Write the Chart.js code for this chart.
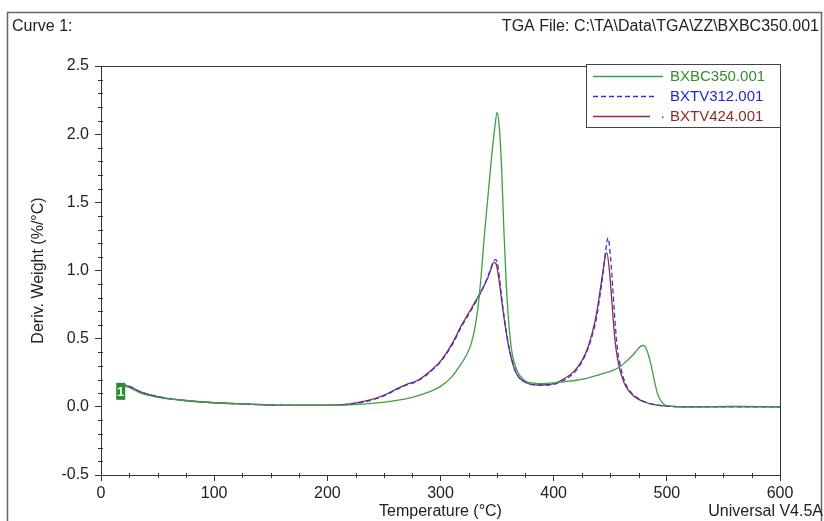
<!DOCTYPE html>
<html>
<head>
<meta charset="utf-8">
<script src="https://cdn.jsdelivr.net/npm/chart.js@4.4.1/dist/chart.umd.min.js"></script>
<style>
  html, body { margin: 0; padding: 0; background: #fff; }
  canvas { display: block; }
</style>
</head>
<body>
<canvas id="c" width="824" height="521"></canvas>
<script>
// ---------- DATA ----------
const seriesNames = ["BXBC350.001", "BXTV312.001", "BXTV424.001"];

const greenT = [18, 25, 35, 50, 70, 100, 130, 160, 200, 220, 240, 260, 275, 290, 300, 310, 317, 323, 327, 330, 333, 336, 339, 342, 345, 348, 350, 352, 354, 356, 358, 360, 362, 364, 367, 370, 375, 380, 390, 400, 410, 420, 430, 440, 450, 458, 465, 470, 474, 477, 479, 481, 483, 486, 489, 492, 495, 498, 503, 510, 540, 570, 600];
const greenV = [0.16, 0.14, 0.10, 0.07, 0.05, 0.03, 0.02, 0.01, 0.01, 0.015, 0.025, 0.045, 0.07, 0.11, 0.15, 0.22, 0.30, 0.38, 0.46, 0.56, 0.72, 0.97, 1.28, 1.55, 1.82, 2.05, 2.16, 2.05, 1.75, 1.30, 0.92, 0.65, 0.47, 0.36, 0.28, 0.23, 0.19, 0.175, 0.17, 0.175, 0.185, 0.195, 0.21, 0.235, 0.26, 0.29, 0.34, 0.38, 0.42, 0.445, 0.45, 0.44, 0.40, 0.31, 0.19, 0.09, 0.04, 0.015, 0.005, 0.0, 0.0, 0.0, 0.0];

const blueT = [18, 25, 35, 50, 70, 100, 130, 160, 200, 220, 235, 250, 262, 270, 280, 290, 300, 310, 318, 325, 332, 338, 342, 345, 347, 349, 351, 353, 355, 358, 361, 364, 367, 370, 375, 380, 390, 400, 410, 418, 425, 430, 434, 438, 441, 444, 446, 448, 450, 452, 454, 456, 459, 463, 468, 475, 482, 490, 500, 520, 560, 600];
const blueV = [0.17, 0.15, 0.11, 0.075, 0.05, 0.03, 0.02, 0.012, 0.01, 0.02, 0.04, 0.08, 0.13, 0.16, 0.19, 0.25, 0.33, 0.45, 0.58, 0.68, 0.78, 0.88, 0.96, 1.03, 1.07, 1.08, 1.02, 0.88, 0.74, 0.56, 0.42, 0.32, 0.25, 0.21, 0.18, 0.165, 0.16, 0.165, 0.20, 0.25, 0.33, 0.42, 0.52, 0.66, 0.82, 1.00, 1.15, 1.24, 1.12, 0.90, 0.65, 0.45, 0.30, 0.18, 0.11, 0.06, 0.03, 0.015, 0.005, 0.0, 0.0, 0.0];

const redT = [18, 25, 35, 50, 70, 100, 130, 160, 200, 220, 235, 250, 262, 270, 280, 290, 300, 310, 318, 325, 332, 338, 342, 345, 347, 349, 351, 353, 355, 358, 361, 364, 367, 370, 375, 380, 390, 400, 410, 418, 425, 430, 434, 438, 441, 444, 446, 447, 449, 451, 453, 455, 458, 462, 467, 474, 482, 490, 500, 520, 560, 600];
const redV = [0.16, 0.15, 0.11, 0.075, 0.05, 0.03, 0.02, 0.012, 0.012, 0.022, 0.045, 0.085, 0.135, 0.165, 0.195, 0.255, 0.335, 0.46, 0.59, 0.69, 0.79, 0.88, 0.95, 1.02, 1.06, 1.05, 0.97, 0.85, 0.72, 0.55, 0.41, 0.31, 0.245, 0.21, 0.18, 0.165, 0.16, 0.17, 0.21, 0.26, 0.34, 0.43, 0.54, 0.69, 0.85, 1.02, 1.12, 1.13, 1.02, 0.82, 0.60, 0.43, 0.29, 0.18, 0.11, 0.06, 0.03, 0.015, 0.005, 0.0, 0.003, 0.0];

const xTicks = [0, 100, 200, 300, 400, 500, 600];
const yTicks = [-0.5, 0.0, 0.5, 1.0, 1.5, 2.0, 2.5];

// ---------- helpers ----------
function pts(T, V) { return T.map((t, i) => ({ x: t, y: V[i] })); }
const FONT = "'Liberation Sans', Arial, sans-serif";
const colors = { green: '#3f9f45', blue: '#3434e0', red: '#8e3030' };
const textColors = ['#2f8f2f', '#2424d0', '#8a2a2a'];

const decorPlugin = {
  id: 'decor',
  afterDraw(chart) {
    const ctx = chart.ctx;
    const a = chart.chartArea;
    const xs = chart.scales.x, ys = chart.scales.y;
    ctx.save();
    // outer frame
    ctx.strokeStyle = '#666';
    ctx.lineWidth = 1.5;
    ctx.strokeRect(7.5, 12.5, 814, 530);
    // plot box
    ctx.strokeStyle = '#333';
    ctx.lineWidth = 1;
    ctx.strokeRect(Math.round(a.left) + 0.5, Math.round(a.top) + 0.5, Math.round(a.right - a.left), Math.round(a.bottom - a.top));
    // minor ticks x
    ctx.beginPath();
    for (let v = 25; v < 600; v += 25) {
      if (v % 100 === 0) continue;
      const px = Math.round(xs.getPixelForValue(v)) + 0.5;
      ctx.moveTo(px, a.bottom - 2);
      ctx.lineTo(px, a.bottom + 3);
    }
    // minor ticks y
    for (let k = -4; k < 25; k++) {
      if (k % 5 === 0) continue;
      const py = Math.round(ys.getPixelForValue(k / 10)) + 0.5;
      ctx.moveTo(a.left - 3, py);
      ctx.lineTo(a.left + 2, py);
    }
    ctx.stroke();

    // header texts
    ctx.fillStyle = '#222';
    ctx.font = '16px ' + FONT;
    ctx.textBaseline = 'middle';
    ctx.textAlign = 'left';
    ctx.fillText('Curve 1:', 12, 27);
    ctx.textAlign = 'right';
    ctx.fillText('TGA File: C:\\TA\\Data\\TGA\\ZZ\\BXBC350.001', 819, 27);
    ctx.fillText('Universal V4.5A', 823, 512);

    // legend box
    const lx = 586.5, ly = Math.round(a.top) - 1.5, lw = Math.round(a.right) - 586, lh = 63;
    ctx.fillStyle = '#fff';
    ctx.fillRect(lx, ly, lw, lh);
    ctx.strokeStyle = '#444';
    ctx.lineWidth = 1;
    ctx.strokeRect(lx, ly, lw, lh);
    const rows = [76, 96, 116];
    chart.data.datasets.forEach((ds, i) => {
      const y = rows[i] + 0.5;
      ctx.strokeStyle = ds.borderColor;
      ctx.lineWidth = 1.5;
      ctx.setLineDash(ds.borderDash || []);
      ctx.beginPath();
      ctx.moveTo(593, y);
      ctx.lineTo(i === 1 ? 655 : (i === 2 ? 650 : 663), y);
      ctx.stroke();
      ctx.setLineDash([]);
      if (i === 2) { ctx.fillStyle = ds.borderColor; ctx.fillRect(662, y, 1.5, 1.5); }
      ctx.fillStyle = textColors[i];
      ctx.font = '15px ' + FONT;
      ctx.textAlign = 'left';
      ctx.textBaseline = 'middle';
      ctx.fillText(ds.label, 670, rows[i] + 1);
    });

    // curve marker "1"
    const mx = xs.getPixelForValue(17), my = ys.getPixelForValue(0.11);
    ctx.fillStyle = '#2a8c2a';
    ctx.fillRect(mx - 4, my - 9, 9, 17);
    ctx.fillStyle = '#fff';
    ctx.font = 'bold 13px ' + FONT;
    ctx.textAlign = 'center';
    ctx.fillText('1', mx + 0.5, my + 0.5);
    ctx.restore();
  }
};

new Chart(document.getElementById('c'), {
  type: 'line',
  data: {
    datasets: [
      { label: seriesNames[0], data: pts(greenT, greenV), borderColor: colors.green, borderWidth: 1.3, pointRadius: 0, fill: false, cubicInterpolationMode: 'monotone' },
      { label: seriesNames[1], data: pts(blueT, blueV), borderColor: colors.blue, borderWidth: 1.3, borderDash: [5, 3], pointRadius: 0, fill: false, cubicInterpolationMode: 'monotone' },
      { label: seriesNames[2], data: pts(redT, redV), borderColor: colors.red, borderWidth: 1.3, pointRadius: 0, fill: false, cubicInterpolationMode: 'monotone' }
    ]
  },
  options: {
    responsive: false,
    animation: false,
    devicePixelRatio: 1,
    layout: { padding: { left: 0, right: 44, top: 66, bottom: 0 } },
    plugins: { legend: { display: false }, tooltip: { enabled: false } },
    scales: {
      x: {
        type: 'linear', min: 0, max: 600,
        afterBuildTicks: (s) => { s.ticks = xTicks.map(v => ({ value: v })); },
        afterFit: (s) => { s.height = 46; },
        ticks: { color: '#222', font: { family: FONT, size: 16 }, padding: 3, maxRotation: 0 },
        grid: { drawOnChartArea: false, drawTicks: true, tickLength: 6, color: '#333' },
        border: { color: '#333', width: 1 },
        title: { display: true, text: 'Temperature (°C)', color: '#222', font: { family: FONT, size: 16 }, padding: { top: 0, bottom: 0 } }
      },
      y: {
        type: 'linear', min: -0.5, max: 2.5,
        afterBuildTicks: (s) => { s.ticks = yTicks.map(v => ({ value: v })); },
        afterFit: (s) => { s.width = 101; },
        ticks: { color: '#222', font: { family: FONT, size: 16 }, padding: 6, callback: (v) => Number(v).toFixed(1) },
        grid: { drawOnChartArea: false, drawTicks: true, tickLength: 6, color: '#333' },
        border: { color: '#333', width: 1 },
        title: { display: true, text: 'Deriv. Weight (%/°C)', color: '#222', font: { family: FONT, size: 16 }, padding: { top: 29, bottom: 0 } }
      }
    }
  },
  plugins: [decorPlugin]
});
</script>
</body>
</html>
